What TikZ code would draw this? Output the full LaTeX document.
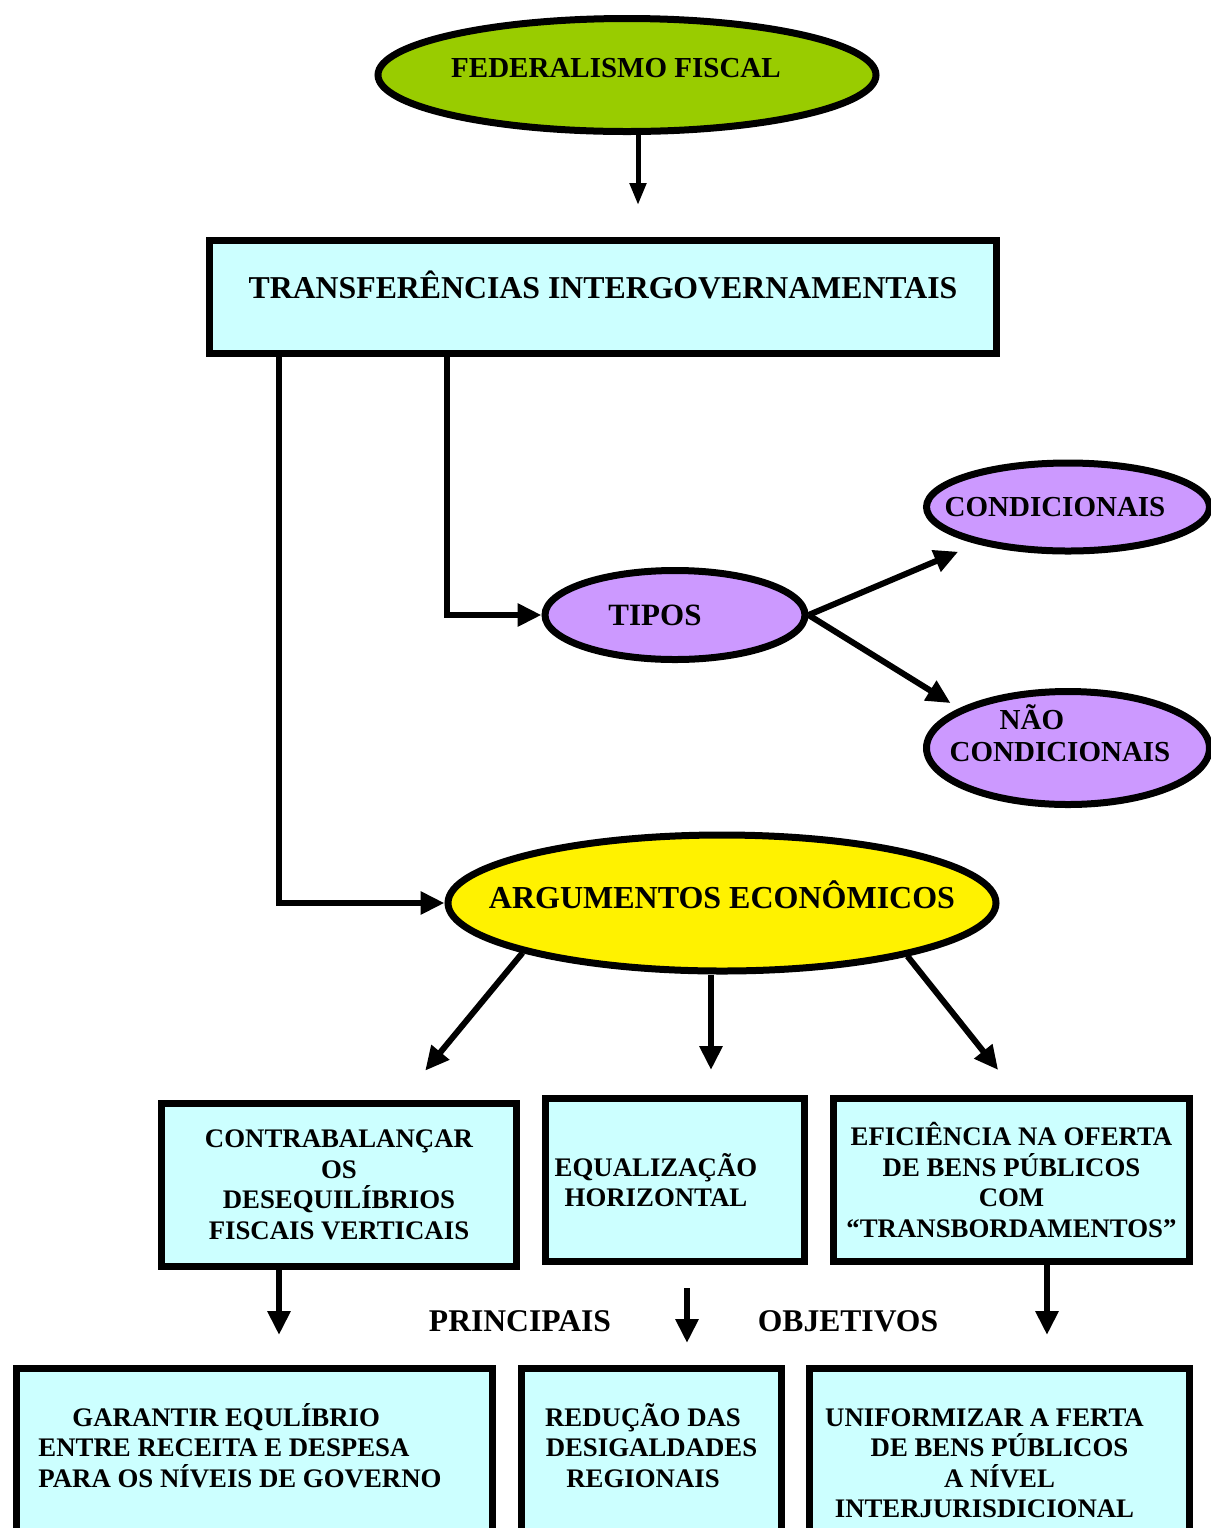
\documentclass[tikz,border=0pt]{standalone}
\usepackage{fontspec}
\setmainfont{Liberation Serif}
\usepackage{tikz}
\usetikzlibrary{arrows.meta,shapes.geometric}

\definecolor{fedgreen}{HTML}{99CC00}
\definecolor{boxcyan}{HTML}{CCFFFF}
\definecolor{tiposlilac}{HTML}{CC99FF}
\newcommand{\ovaltext}[2][0pt]{\makebox[0pt]{\hspace*{#1}#2\hspace*{-#1}}}

\begin{document}
\begin{tikzpicture}[
			x=0.5pt, y=-0.5pt,
			box style/.style={
				draw,
				line width=3.5pt,
				fill=boxcyan,
				align=center,
				inner sep=0pt,
				font=\fontsize{13.4}{15.3}\selectfont\bfseries
			},
			oval style/.style={
				ellipse,
				draw,
				line width=3.5pt,
				inner sep=0pt,
				font=\fontsize{14.5}{17}\selectfont\bfseries
			},
			low box/.style={
				box style,
				anchor=north,
				text depth=100pt,
				inner ysep=17pt
			},
			word style/.style={font=\fontsize{15.8}{18}\selectfont\bfseries},
			arrow style/.style={-{Triangle[length=12pt,width=11pt]}, line width=3pt}
			]
			
			\useasboundingbox (0,0) rectangle (1211,1528);
			
			\node[oval style, fill=fedgreen, minimum width=249pt, minimum height=56.5pt, text height=12pt, text depth=9.4pt] (fed) at (627,75) 
			{\ovaltext[-5.5pt]{FEDERALISMO FISCAL}};
			
			\node[box style, minimum width=393.5pt, minimum height=56.5pt, text height=14pt, text depth=12.4pt, font=\fontsize{15.9}{18}\selectfont\bfseries] (trans) at (603,297) 
			{TRANSFERÊNCIAS INTERGOVERNAMENTAIS};
			
			\node[oval style, fill=tiposlilac, minimum width=130pt, minimum height=44.5pt, font=\fontsize{15.5}{18}\selectfont\bfseries] (tipos) at (675,615) 
			{\ovaltext[-10pt]{TIPOS}};
			\node[oval style, fill=tiposlilac, minimum width=141.5pt, minimum height=44pt] (cond) at (1068,507) 
			{\ovaltext[-6.5pt]{CONDICIONAIS}};
			\node[oval style, fill=tiposlilac, minimum width=141.5pt, minimum height=56.5pt, text height=13pt, text depth=16pt] (naocond) at (1068,748) 
			{\ovaltext[-4pt]{\begin{tabular}{@{}l@{}}\hspace*{25pt}NÃO\\[-1pt]CONDICIONAIS\end{tabular}}};
			
			\node[oval style, fill=yellow, minimum width=274pt, minimum height=68pt, font=\fontsize{16}{18}\selectfont\bfseries, text height=11pt, text depth=6pt] (arg) at (722,903) 
			{\ovaltext{ARGUMENTOS ECONÔMICOS}};
			
			\node[box style, minimum width=177.5pt, minimum height=81.5pt] (contra) at (339,1185) 
			{CONTRABALANÇAR\\OS\\ DESEQUILÍBRIOS\\FISCAIS VERTICAIS};
			\node[box style, minimum width=129.5pt, minimum height=81.5pt] (equal) at (675,1180) 
			{EQUALIZAÇÃO\hspace*{19pt}\\HORIZONTAL\hspace*{19pt}};
			\node[box style, minimum width=178pt, minimum height=81.5pt] (efic) at (1011.5,1180) 
			{EFICIÊNCIA NA OFERTA\\DE BENS PÚBLICOS\\COM\\“TRANSBORDAMENTOS”};
			
			\node[word style] (princ) at (520,1321) {PRINCIPAIS};
			\node[word style] (objet) at (848,1321) {OBJETIVOS};
			
			\node[low box, minimum width=238pt, text height=42.35pt, align=left] (garant) at (254.5,1365) 
			{\hspace*{17pt}GARANTIR EQULÍBRIO\\ENTRE RECEITA E DESPESA\\PARA OS NÍVEIS DE GOVERNO\hspace*{14.5pt}};
			\node[low box, minimum width=130pt, text height=42.35pt] (reduc) at (651.5,1365) 
			{REDUÇÃO DAS\hspace*{8.5pt}\\DESIGALDADES\hspace*{8.5pt}\\REGIONAIS\hspace*{8.5pt}};
			\node[low box, minimum width=190pt, text height=57.65pt] (unif) at (999.5,1365) 
			{UNIFORMIZAR A FERTA\hspace*{15pt}\\DE BENS PÚBLICOS\hspace*{15pt}\\A NÍVEL\hspace*{15pt}\\INTERJURISDICIONAL\hspace*{15pt}};
			
			\draw[arrow style, line width=2.5pt, -{Triangle[length=11pt,width=8pt]}, shorten >=16pt] ([xshift=5.5pt]fed.south) -- ([xshift=5.5pt]fed.south |- trans.north);
			\draw[arrow style] ([xshift=36.5pt]trans.south west) |- (arg.west);
			\draw[arrow style] ([xshift=120.5pt]trans.south west) |- (tipos.west);
			\draw[arrow style, shorten >=10pt] (tipos.east) -- (cond.202);
			\draw[arrow style, shorten >=5pt] (tipos.east) -- (naocond.160);
			
			\draw[arrow style, shorten >=19pt] (arg.194) -- ([xshift=31pt]contra.north);
			\draw[arrow style, shorten >=12.5pt] ([xshift=-5.5pt]arg.south) -- ([xshift=-5.5pt]arg.south |- equal.north);
			\draw[arrow style, shorten >=16pt] (arg.344) -- ([xshift=3.3pt]efic.north);
			
			\draw[arrow style, shorten >=15pt] ([xshift=-30pt]contra.south) -- ([xshift=-30pt]contra.south |- garant.north);
			\draw[arrow style, shorten <=11.5pt, shorten >=11pt] ([xshift=6pt]equal.south) -- ([xshift=6pt]equal.south |- reduc.north);
			\draw[arrow style, shorten >=15pt] ([xshift=17.75pt]efic.south) -- ([xshift=17.75pt]efic.south |- unif.north);
			
		\end{tikzpicture}
\end{document}
